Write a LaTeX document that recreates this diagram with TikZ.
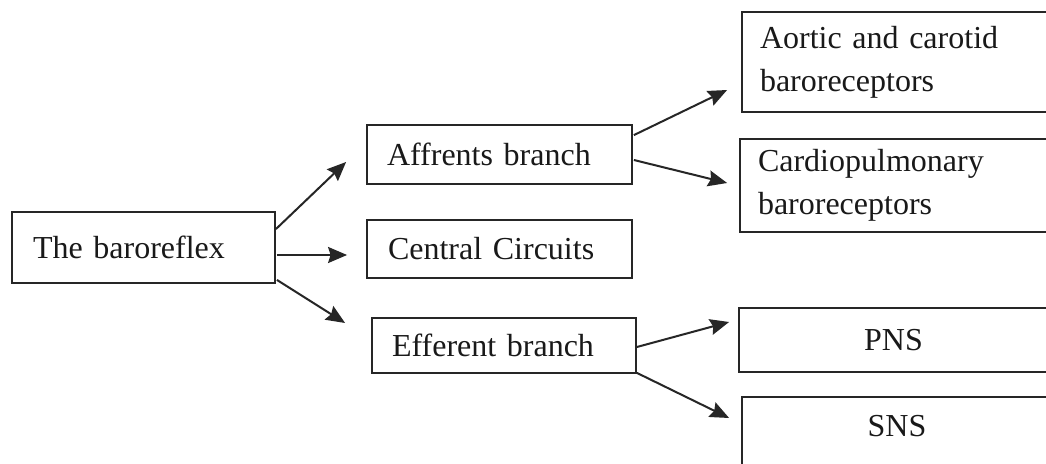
\documentclass[tikz,border=0pt]{standalone}
\usepackage{fontspec}
\setmainfont{Liberation Serif}
\usetikzlibrary{arrows.meta,calc}

\tikzset{
  box/.style={draw=black!85, line width=1.8pt, rectangle, fill=white,
    font=\fontsize{32}{43}\selectfont, text=black!90, anchor=center},
  leftbox/.style={box, align=left},
  midbox/.style={box, align=center},
  link/.style={draw=black!85, line width=2pt,
    -{Stealth[length=19pt, width=16pt, inset=2.5pt]}}
}

\begin{document}
\begin{tikzpicture}[x=1pt, y=-1pt]
  \useasboundingbox (0,0) rectangle (1046,463);
  \fill[white] (0,0) rectangle (1046,463);
  \clip (0,0) rectangle (1046,463);

  % root and the three branches
  \node[leftbox, minimum width=263pt, minimum height=71pt, inner xsep=21pt, text width=221pt]
    (baro) at (143.5,247.5) {The baroreflex};
  \node[leftbox, minimum width=265pt, minimum height=59pt, inner xsep=20pt, text width=225pt]
    (aff) at (499.5,154.5) {Affrents branch};
  \node[leftbox, minimum width=265pt, minimum height=58pt, inner xsep=21pt, text width=223pt]
    (cen) at (499.5,249) {Central Circuits};
  \node[leftbox, minimum width=264pt, minimum height=55pt, inner xsep=20pt, text width=224pt]
    (eff) at (504,345.5) {Efferent branch};

  % receptor and outflow boxes, running off the right edge
  \node[leftbox, minimum width=320pt, minimum height=100pt, inner xsep=18pt, text width=284pt]
    (aor) at (902,62) {Aortic and carotid\\baroreceptors};
  \node[leftbox, minimum width=322pt, minimum height=93pt, inner xsep=18pt, text width=286pt]
    (car) at (901,185.5) {Cardiopulmonary\\baroreceptors};
  \node[midbox, minimum width=309pt, minimum height=64pt, inner xsep=0pt, text width=309pt]
    (pns) at (893.5,340) {PNS};
  \node[midbox, anchor=north, inner xsep=0pt, inner ysep=0pt, text width=310pt,
    text height=40pt, text depth=40pt]
    (sns) at (897,396) {SNS};

  % connectors
  \draw[link] ($(baro.north east)+(0,18)$) -- ($(aff.west)+(-20,7.5)$);
  \draw[link] ($(baro.east)+(1,7.5)$) -- ($(cen.west)+(-19,6)$);
  \draw[link] ($(baro.south east)+(1,-4)$) -- ($(eff.west)+(-26,-22.5)$);

  \draw[link] ($(aff.north east)+(1,11)$) -- ($(aor.west)+(-14,28)$);
  \draw[link] ($(aff.east)+(1,5.5)$) -- ($(car.west)+(-12,-2.5)$);

  \draw[link] ($(eff.east)+(0,1.5)$) -- ($(pns.west)+(-9,-18)$);
  \draw[link] ($(eff.south east)+(0,-1)$) -- ($(sns.north west)+(-12,22)$);
\end{tikzpicture}
\end{document}
